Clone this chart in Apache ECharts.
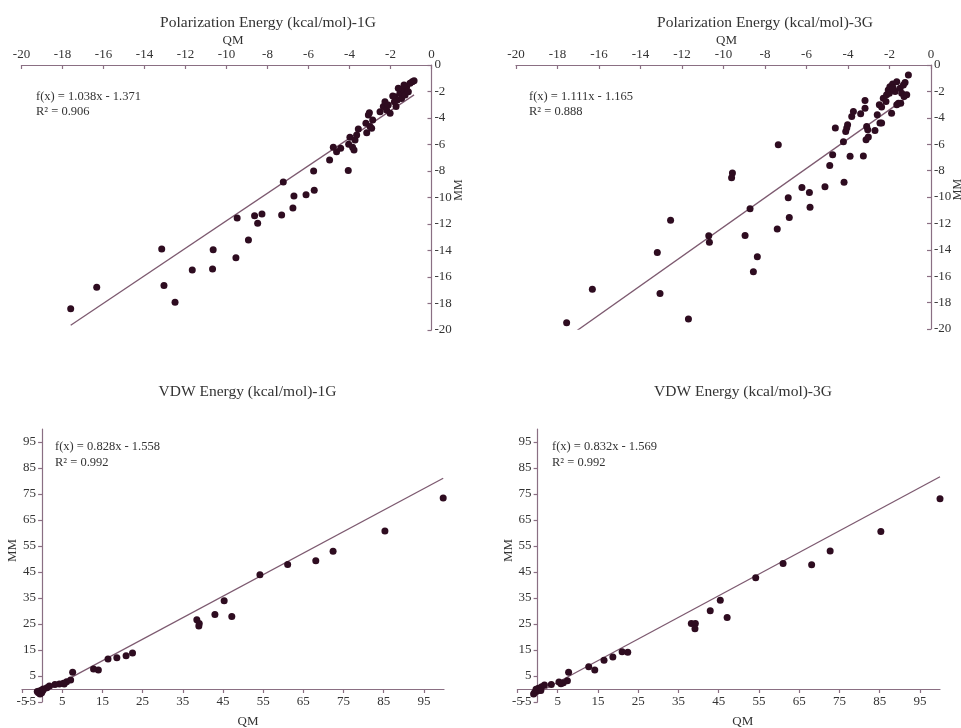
<!DOCTYPE html>
<html>
<head>
<meta charset="utf-8">
<script src="https://cdn.jsdelivr.net/npm/echarts@6/dist/echarts.min.js"></script>
<style>
  html, body { margin: 0; padding: 0; background: #ffffff; }
  #chart { width: 961px; height: 728px; }
</style>
</head>
<body>
<div id="chart"></div>
<script>
// Polarization energy, 1G model: QM reference vs MM values (kcal/mol)
const polar1gQM = [-17.60, -16.33, -13.16, -13.05, -12.51, -11.67, -10.65, -10.68, -9.54, -9.48,
  -8.93, -8.63, -8.48, -8.27, -7.31, -7.23, -6.76, -6.71, -6.12, -5.72,
  -5.75, -4.97, -4.79, -4.63, -4.43, -4.06, -4.04, -3.98, -3.85, -3.78,
  -3.73, -3.65, -3.57, -3.20, -3.16, -3.08, -3.03, -3.00, -2.92, -2.87,
  -2.51, -2.35, -2.27, -2.19, -2.11, -2.02, -1.73, -1.78, -1.67, -1.54,
  -1.46, -1.37, -1.29, -1.21, -1.13, -1.05, -0.94, -0.85, -1.89, -1.62,
  -1.34, -1.81];
const polar1gMM = [-18.39, -16.78, -13.89, -16.65, -17.91, -15.47, -13.94, -15.40, -14.54, -11.55,
  -13.21, -11.37, -11.95, -11.25, -11.32, -8.83, -10.79, -9.89, -9.79, -9.46,
  -8.00, -7.17, -6.21, -6.54, -6.29, -7.97, -5.99, -5.46, -6.21, -6.41,
  -5.66, -5.28, -4.83, -4.40, -5.11, -3.77, -3.60, -4.65, -4.78, -4.15,
  -3.52, -3.14, -2.77, -3.40, -3.02, -3.65, -3.14, -2.39, -2.64, -2.14,
  -2.52, -1.89, -2.26, -1.64, -2.01, -1.38, -1.26, -1.18, -2.34, -1.76,
  -1.51, -2.77];

// Polarization energy, 3G model
const polar3gQM = [-17.56, -16.32, -13.19, -13.06, -12.55, -11.69, -10.71, -10.68, -9.57, -9.61,
  -8.96, -8.72, -8.56, -8.37, -7.36, -7.41, -6.88, -6.83, -6.22, -5.86,
  -5.83, -5.11, -4.88, -4.74, -4.61, -4.22, -4.19, -4.11, -4.06, -4.02,
  -3.90, -3.82, -3.74, -3.39, -3.26, -3.18, -3.18, -3.13, -3.10, -3.05,
  -3.02, -2.70, -2.59, -2.49, -2.46, -2.38, -2.30, -2.38, -2.14, -2.06,
  -1.98, -1.90, -1.85, -1.73, -1.65, -1.57, -1.49, -1.41, -1.33, -1.30,
  -1.25, -1.17, -1.09, -2.17, -2.01, -1.82, -1.46, -1.65];
const polar3gMM = [-19.52, -16.98, -14.21, -17.31, -11.77, -19.25, -12.93, -13.43, -8.18, -8.55,
  -12.91, -10.89, -15.67, -14.52, -6.04, -12.43, -10.06, -11.55, -9.28, -9.66,
  -10.77, -9.23, -7.62, -6.79, -4.78, -5.81, -8.88, -5.03, -4.78, -4.53,
  -6.92, -3.90, -3.52, -3.70, -6.89, -2.69, -3.27, -5.66, -4.65, -4.91,
  -5.46, -4.96, -3.77, -3.02, -4.40, -3.19, -2.52, -4.40, -2.26, -1.89,
  -1.64, -3.65, -1.43, -2.01, -1.26, -2.89, -1.76, -2.14, -1.51, -2.39,
  -1.33, -2.26, -0.75, -2.77, -2.14, -1.76, -2.89, -3.02];

// VDW energy, 1G model
const vdw1gQM = [99.8, 85.3, 72.4, 68.1, 61.1, 54.2, 45.3, 47.2, 43.0, 38.5,
  39.1, 39.0, 22.5, 20.9, 18.6, 16.4, 14.0, 12.8, 7.6, 7.1,
  6.1, 5.3, 4.3, 3.2, 1.8, 1.2, 0.3, -0.1, -0.7, -0.9,
  -0.5, -1.2, -0.1, 5.5, 0.2];
const vdw1gMM = [73.5, 60.8, 53.0, 49.3, 47.9, 43.9, 33.9, 27.9, 28.7, 26.6,
  25.2, 24.2, 13.8, 12.8, 12.0, 11.5, 7.3, 7.7, 6.4, 3.5,
  2.8, 2.2, 1.9, 1.7, 1.2, 0.5, 0.0, -0.4, -0.8, -1.4,
  -1.9, -1.0, -1.4, 1.9, -0.6];

// VDW energy, 3G model
const vdw3gQM = [100.0, 85.3, 72.7, 68.1, 61.0, 54.2, 45.4, 47.1, 42.9, 38.2,
  39.2, 39.1, 22.4, 21.0, 18.7, 16.5, 14.2, 12.7, 7.7, 7.4,
  6.4, 5.8, 5.3, 3.4, 1.7, 1.0, 0.5, -0.2, -0.8, -1.0,
  0.2, -0.4, 0.8];
const vdw3gMM = [73.2, 60.6, 53.1, 47.8, 48.3, 42.8, 34.1, 27.5, 30.1, 25.2,
  25.2, 23.2, 14.1, 14.3, 12.3, 11.1, 7.3, 8.6, 6.4, 3.2,
  2.4, 2.0, 2.7, 1.7, 1.5, 0.9, -0.4, -0.9, -1.4, -1.9,
  0.3, -0.1, -0.6];

// Linear fits: [slope, intercept, R²]
const polar1gFit = [1.038, -1.371, 0.906];
const polar3gFit = [1.111, -1.165, 0.888];
const vdw1gFit = [0.828, -1.558, 0.992];
const vdw3gFit = [0.832, -1.569, 0.992];

// Panel titles
const panelTitles = [
  'Polarization Energy (kcal/mol)-1G',
  'Polarization Energy (kcal/mol)-3G',
  'VDW Energy (kcal/mol)-1G',
  'VDW Energy (kcal/mol)-3G'
];

// Tick values on the VDW axes
const vdwTicks = [-5, 5, 15, 25, 35, 45, 55, 65, 75, 85, 95];
const VDW_MIN = -5, VDW_MAX = 100;

const FONT = '"Liberation Serif", "DejaVu Serif", serif';
const AXIS_COLOR = '#8a6f83';
const LINE_COLOR = '#7d5a70';
const DOT_COLOR = '#2e0c20';
const TEXT_COLOR = '#333333';

// Grid boxes: [left, top, width, height]
const boxes = [
  [21.5, 65, 410, 265],
  [516, 65, 415, 264],
  [22, 429, 422, 273],
  [517.5, 429, 422.5, 273]
];

function pairs(xs, ys) {
  return xs.map((x, i) => [x, ys[i]]);
}

function fitLine(xs, fit) {
  const lo = Math.min(...xs), hi = Math.max(...xs);
  return [[lo, fit[0] * lo + fit[1]], [hi, fit[0] * hi + fit[1]]];
}

function eqText(fit) {
  const sign = fit[1] < 0 ? '-' : '+';
  return 'f(x) = ' + fit[0].toFixed(3) + 'x ' + sign + ' ' + Math.abs(fit[1]).toFixed(3) +
    '\nR\u00b2 = ' + fit[2].toFixed(3);
}

// Pixel distance from the lower bound of the VDW range to zero, so the
// axes cross at the origin.
function zeroShift(span) {
  return (0 - VDW_MIN) / (VDW_MAX - VDW_MIN) * span;
}

const labelStyle = { fontFamily: FONT, fontSize: 13, color: TEXT_COLOR };
const lineStyle = { color: AXIS_COLOR, width: 1.2 };

function polarX(gridIndex, shift) {
  return {
    type: 'value', gridIndex, position: 'top', min: -20, max: 0, interval: 2,
    name: 'QM', nameLocation: 'middle', nameGap: 17,
    nameTextStyle: { fontFamily: FONT, fontSize: 13, color: TEXT_COLOR, padding: [0, 0, 0, shift] },
    axisLine: { onZero: false, lineStyle },
    axisTick: { inside: true, length: 4, lineStyle },
    axisLabel: Object.assign({ margin: 4 }, labelStyle),
    splitLine: { show: false }
  };
}
function polarY(gridIndex) {
  return {
    type: 'value', gridIndex, position: 'right', min: -20, max: 0, interval: 2,
    name: 'MM', nameLocation: 'middle', nameGap: 21, nameMoveOverlap: false,
    nameTextStyle: { fontFamily: FONT, fontSize: 12, color: TEXT_COLOR, padding: [0, 0, 0, 15] },
    axisLine: { onZero: false, lineStyle },
    axisTick: { inside: true, length: 4, lineStyle },
    axisLabel: Object.assign({ margin: 3 }, labelStyle),
    splitLine: { show: false }
  };
}
function vdwX(gridIndex, shift) {
  return {
    type: 'value', gridIndex, position: 'bottom', min: VDW_MIN, max: VDW_MAX,
    offset: -zeroShift(boxes[gridIndex][3]),
    name: 'QM', nameLocation: 'middle', nameGap: 26,
    nameTextStyle: { fontFamily: FONT, fontSize: 13, color: TEXT_COLOR, padding: [0, 0, 0, shift] },
    axisLine: { onZero: false, lineStyle },
    axisTick: { length: 4, lineStyle, customValues: vdwTicks },
    axisLabel: Object.assign({ margin: 6, customValues: vdwTicks }, labelStyle),
    splitLine: { show: false }
  };
}
function vdwY(gridIndex) {
  return {
    type: 'value', gridIndex, position: 'left', min: VDW_MIN, max: VDW_MAX,
    offset: -zeroShift(boxes[gridIndex][2]),
    name: 'MM', nameLocation: 'middle', nameGap: 23,
    nameTextStyle: { fontFamily: FONT, fontSize: 13, color: TEXT_COLOR, padding: [0, 0, 0, 30] },
    axisLine: { onZero: false, lineStyle },
    axisTick: { length: 4, lineStyle, customValues: vdwTicks },
    axisLabel: Object.assign({ margin: 6, customValues: vdwTicks }, labelStyle),
    splitLine: { show: false }
  };
}

function scatter(i, xs, ys) {
  return {
    type: 'scatter', xAxisIndex: i, yAxisIndex: i, data: pairs(xs, ys),
    symbolSize: 7, itemStyle: { color: DOT_COLOR, opacity: 1 }, z: 3, silent: true
  };
}
function trend(i, xs, fit) {
  return {
    type: 'line', xAxisIndex: i, yAxisIndex: i, data: fitLine(xs, fit),
    showSymbol: false, clip: true, silent: true, z: 2,
    lineStyle: { color: LINE_COLOR, width: 1.3 }
  };
}

function textEl(x, y, text, size, align) {
  return {
    type: 'text', x, y, silent: true,
    style: {
      text, fill: TEXT_COLOR, font: size + 'px ' + FONT,
      textAlign: align, textVerticalAlign: 'middle', lineHeight: 15.5
    }
  };
}

const chart = echarts.init(document.getElementById('chart'), null, { renderer: 'canvas' });
chart.setOption({
  animation: false,
  backgroundColor: '#ffffff',
  grid: boxes.map(b => ({
    left: b[0], top: b[1], width: b[2], height: b[3],
    containLabel: false, outerBoundsMode: 'none'
  })),
  xAxis: [polarX(0, 13), polarX(1, 6), vdwX(2, 30), vdwX(3, 28)],
  yAxis: [polarY(0), polarY(1), vdwY(2), vdwY(3)],
  series: [
    trend(0, polar1gQM, polar1gFit), scatter(0, polar1gQM, polar1gMM),
    trend(1, polar3gQM, polar3gFit), scatter(1, polar3gQM, polar3gMM),
    trend(2, vdw1gQM, vdw1gFit), scatter(2, vdw1gQM, vdw1gMM),
    trend(3, vdw3gQM, vdw3gFit), scatter(3, vdw3gQM, vdw3gMM)
  ],
  graphic: [
    textEl(268, 22.5, panelTitles[0], 15.5, 'center'),
    textEl(765, 22.5, panelTitles[1], 15.5, 'center'),
    textEl(247.5, 391.5, panelTitles[2], 15.5, 'center'),
    textEl(743, 391.5, panelTitles[3], 15.5, 'center'),
    textEl(36, 104, eqText(polar1gFit), 12.5, 'left'),
    textEl(529, 104, eqText(polar3gFit), 12.5, 'left'),
    textEl(55, 454.5, eqText(vdw1gFit), 12.5, 'left'),
    textEl(552, 454.5, eqText(vdw3gFit), 12.5, 'left')
  ]
});
</script>
</body>
</html>
